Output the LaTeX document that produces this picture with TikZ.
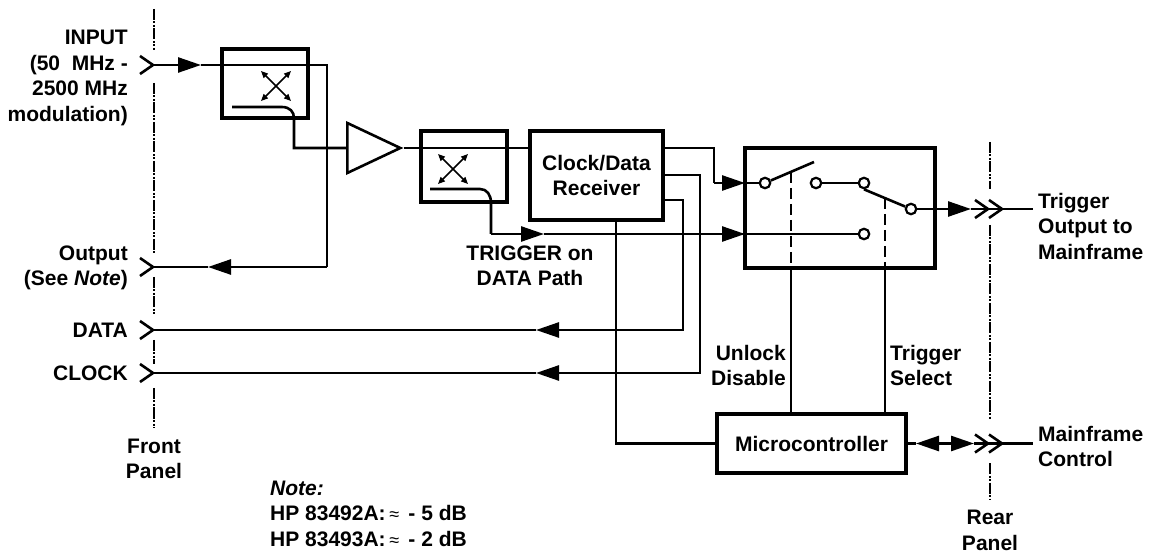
\documentclass[tikz,border=0pt]{standalone}
\usepackage{fontspec}
\setmainfont{Liberation Sans}
\usetikzlibrary{arrows.meta,shapes.geometric}

\newcommand{\approxmark}{{\mdseries\fontsize{18}{18}\selectfont ≈}}

\tikzset{
    wire/.style={line width=2.6pt},
    flow/.style={wire,-{Triangle[length=23pt,width=15pt]}},
    block/.style={draw,line width=4.6pt,inner sep=0pt},
    amp/.style={draw,wire,shape=isosceles triangle,isosceles triangle stretches,inner sep=0pt,minimum width=50pt,minimum height=53pt,anchor=lower side},
    contact/.style={draw,circle,line width=2.2pt,fill=white,inner sep=0pt,minimum size=10.5pt},
    panel/.style={line width=2.4pt,dash pattern=on 11pt off 1.5pt on 2pt off 1.5pt on 2pt off 1.5pt},
    coupler/.style={line width=1.5pt,{Triangle[length=7pt,width=6pt]}-{Triangle[length=7pt,width=6pt]}},
    label/.style={font=\fontsize{21}{25.5}\selectfont\bfseries,inner sep=0pt}
}

\begin{document}
\begin{tikzpicture}[x=1pt,y=-1pt]
    \useasboundingbox (0,0) rectangle (1160,553);

    % blocks
    \node [block,minimum width=86pt,minimum height=69pt] (cplA) at (265,83.5) {};
    \node [block,minimum width=86pt,minimum height=71pt] (cplB) at (464,166.5) {};
    \node [block,label,align=center,minimum width=133pt,minimum height=89pt] (cdr) at (596.5,175.5) {Clock/Data\\Receiver};
    \node [block,minimum width=190pt,minimum height=120pt] (switch) at (840,208) {};
    \node [block,label,minimum width=189pt,minimum height=59pt] (micro) at (811.5,443.5) {Microcontroller};
    \node [amp] (buf) at (346,148) {};

    % contacts
    \node [contact] (swA) at (765,183) {};
    \node [contact] (swB) at (816,183) {};
    \node [contact] (swC) at (864,183) {};
    \node [contact] (swD) at (911,209) {};
    \node [contact] (swE) at (864,234) {};

    % connectors on the panels
    \coordinate (jackIn) at (153,65);
    \coordinate (jackOut) at (153,267);
    \coordinate (jackData) at (153,330);
    \coordinate (jackClock) at (153,373);
    \coordinate (jackTrigA) at (988,209);
    \coordinate (jackTrigB) at (1002,209);
    \coordinate (jackCtlA) at (988,443.5);
    \coordinate (jackCtlB) at (1002,443.5);
    \foreach \jack in {jackIn,jackOut,jackData,jackClock,jackTrigA,jackTrigB,jackCtlA,jackCtlB}
        {\draw [wire,shift={(\jack)}] (-13,-9) -- (0,0) -- (-13,9);}

    % panel lines
    \foreach \ya/\yb in {9/50,83/255,277/315,340/364,388/428}
        {\draw [panel] (154,\ya) -- (154,\yb);}
    \foreach \ya/\yb in {142/189,225/420,463/500}
        {\draw [panel] (990,\ya) -- (990,\yb);}

    % input path
    \coordinate (arrIn) at (201,65);
    \coordinate (arrOut) at (208,267);
    \coordinate (thruA) at (327,65);
    \draw [flow] (jackIn) -- (arrIn);
    \draw [wire] (arrIn) -- (thruA) -- (thruA |- jackOut);
    \draw [flow] (thruA |- jackOut) -- (arrOut);
    \draw [wire] (arrOut) -- (jackOut);

    % couplers
    \foreach \cx/\cy in {276/86,453/169}
        {\draw [coupler,shift={(\cx,\cy)}] (-15,-15) -- (15,15);
         \draw [coupler,shift={(\cx,\cy)}] (-15,15) -- (15,-15);}

    \draw [wire] (232,107) -- (282,107) .. controls (290,107) and (294,112) .. (294,118)
        -- (294,148) -- (buf.lower side);
    \draw [wire] (buf.apex) -- (cdr.west |- buf.apex);

    \coordinate (arrTrig) at (544,234);
    \coordinate (arrSwB) at (745,234);
    \draw [wire] (430,189) -- (480,189) .. controls (487,189) and (491,195) .. (491,203) -- (491,234);
    \draw [flow] (491,234) -- (arrTrig);
    \draw [wire] (arrTrig) -- (arrSwB);
    \draw [flow] (722,234) -- (arrSwB);
    \draw [wire] (arrSwB) -- (swE);

    % receiver to switch
    \coordinate (arrSwA) at (745,183);
    \draw [wire] (cdr.east |- buf.apex) -- (714,148) -- (714,183);
    \draw [flow] (714,183) -- (arrSwA);
    \draw [wire] (arrSwA) -- (swA);

    % switch
    \coordinate (armA) at (814,162);
    \coordinate (tapA) at (791,172);
    \coordinate (tapB) at (885,198);
    \draw [wire] (swA) -- (armA);
    \draw [wire] (swB) -- (swC);
    \draw [wire] (swC.south) -- (swD);
    \draw [wire,dash pattern=on 11pt off 5pt] (tapA) -- (tapA |- switch.south);
    \draw [wire,dash pattern=on 11pt off 5pt] (tapB) -- (tapB |- switch.south);
    \draw [wire] (tapA |- switch.south) -- (tapA |- micro.north);
    \draw [wire] (tapB |- switch.south) -- (tapB |- micro.north);

    % trigger output
    \coordinate (arrTrigOut) at (971,209);
    \coordinate (trigEnd) at (1033,209);
    \draw [wire] (swD) -- (949,209);
    \draw [flow] (949,209) -- (arrTrigOut);
    \draw [wire] (arrTrigOut) -- (jackTrigB) -- (trigEnd);

    % data and clock
    \coordinate (arrData) at (536,330);
    \coordinate (arrClock) at (536,373);
    \draw [wire] (cdr.east |- 0,200) -- (683,200) -- (683,330) -- (559,330);
    \draw [flow] (559,330) -- (arrData);
    \draw [wire] (arrData) -- (jackData);
    \draw [wire] (cdr.east |- 0,175) -- (700,175) -- (700,373) -- (559,373);
    \draw [flow] (559,373) -- (arrClock);
    \draw [wire] (arrClock) -- (jackClock);

    % microcontroller
    \draw [wire] (616,220) -- (616,443.5) -- (micro.west);
    \coordinate (arrCtlL) at (916,443.5);
    \coordinate (arrCtlR) at (974,443.5);
    \coordinate (ctlEnd) at (1033,443.5);
    \draw [wire] (micro.east) -- (arrCtlL);
    \draw [flow] (940,443.5) -- (arrCtlL);
    \draw [flow] (940,443.5) -- (arrCtlR);
    \draw [wire] (arrCtlR) -- (jackCtlB) -- (ctlEnd);

    % labels
    \node [label,align=right,anchor=east] (inputLabel) at (128,78) {INPUT\\(50\ \ MHz -\\2500 MHz\\modulation)};
    \node [label,align=right,anchor=east] (outputLabel) at (128,268) {Output\\(See \textit{Note})};
    \node [label,anchor=east] (dataLabel) at (128,330) {DATA};
    \node [label,anchor=east] (clockLabel) at (128,373) {CLOCK};
    \node [label,align=center] (frontLabel) at (154,459) {Front\\Panel};
    \node [label,align=left,anchor=west] (noteLabel) at (270,513.5) {\textit{Note:}\\HP 83492A:\,\approxmark\ \,- 5 dB\\HP 83493A:\,\approxmark\ \,- 2 dB};
    \node [label,align=center] (trigPathLabel) at (530,266) {TRIGGER on\\DATA Path};
    \node [label,align=right,anchor=east] (unlockLabel) at (786,365.5) {Unlock\\Disable};
    \node [label,align=left,anchor=west] (selectLabel) at (890,365.5) {Trigger\\Select};
    \node [label,align=left,anchor=west] (trigOutLabel) at (1038,226) {Trigger\\Output to\\Mainframe};
    \node [label,align=left,anchor=west] (ctlLabel) at (1038,446.5) {Mainframe\\Control};
    \node [label,align=center] (rearLabel) at (990,530.5) {Rear\\Panel};
\end{tikzpicture}
\end{document}
